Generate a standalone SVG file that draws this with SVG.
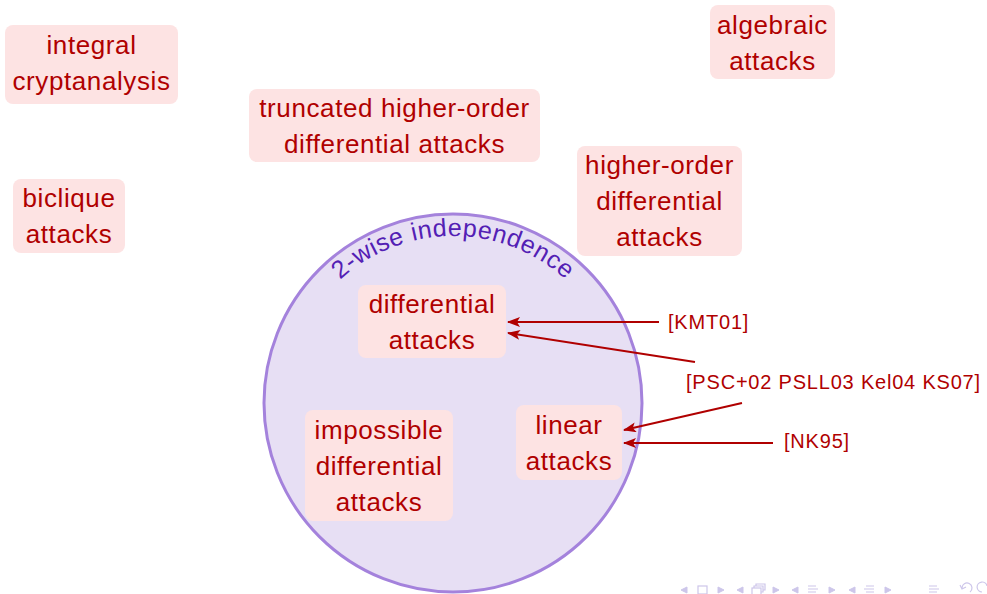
<svg xmlns="http://www.w3.org/2000/svg" width="987" height="594" viewBox="0 0 987 594">
<style>
.box{fill:#fde3e3}
.t{font-family:"Liberation Sans",Arial,sans-serif;font-size:26px;letter-spacing:0.6px;fill:#b00000;text-anchor:middle}
.ref{font-family:"Liberation Sans",Arial,sans-serif;font-size:20px;letter-spacing:0.8px;fill:#b00000}
.arr{stroke:#b00000;stroke-width:2;fill:none;marker-end:url(#ah)}
.nav{fill:#cdc6ea;stroke:#cdc6ea}
</style>
<defs>
<marker id="ah" markerWidth="14" markerHeight="10" refX="12" refY="5" orient="auto" markerUnits="userSpaceOnUse">
<path d="M0,0 L13,5 L0,10 L3,5 Z" fill="#b00000"/>
</marker>
<path id="arc" d="M286,403 A167,167 0 0 1 620,403"/>
</defs>
<rect width="987" height="594" fill="#ffffff"/>
<g id="circle">
<circle cx="453" cy="403" r="189" fill="#e7dff4" stroke="#a482dc" stroke-width="3"/>
<text style="font-family:'Liberation Sans',Arial,sans-serif;font-size:25px;fill:#5320b4" letter-spacing="0.6"><textPath href="#arc" startOffset="50%" text-anchor="middle">2-wise independence</textPath></text>
</g>
<g id="integral">
<rect class="box" x="5" y="25" width="173" height="79" rx="8"/>
<text class="t" x="91.5" y="54">integral</text>
<text class="t" x="91.5" y="90">cryptanalysis</text>
</g>
<g id="algebraic">
<rect class="box" x="710" y="5" width="125" height="74" rx="8"/>
<text class="t" x="772.5" y="34">algebraic</text>
<text class="t" x="772.5" y="70">attacks</text>
</g>
<g id="truncated">
<rect class="box" x="249" y="89" width="291" height="73" rx="8"/>
<text class="t" x="394.5" y="117">truncated higher-order</text>
<text class="t" x="394.5" y="153">differential attacks</text>
</g>
<g id="biclique">
<rect class="box" x="13" y="179" width="112" height="74" rx="8"/>
<text class="t" x="69" y="207">biclique</text>
<text class="t" x="69" y="243">attacks</text>
</g>
<g id="higherorder">
<rect class="box" x="577" y="146" width="165" height="110" rx="8"/>
<text class="t" x="659.5" y="174">higher-order</text>
<text class="t" x="659.5" y="210">differential</text>
<text class="t" x="659.5" y="246">attacks</text>
</g>
<g id="differential">
<rect class="box" x="358" y="285" width="148" height="73" rx="8"/>
<text class="t" x="432" y="313">differential</text>
<text class="t" x="432" y="349">attacks</text>
</g>
<g id="impossible">
<rect class="box" x="305" y="410" width="148" height="111" rx="8"/>
<text class="t" x="379" y="439">impossible</text>
<text class="t" x="379" y="475">differential</text>
<text class="t" x="379" y="511">attacks</text>
</g>
<g id="linear">
<rect class="box" x="516" y="405" width="106" height="75" rx="8"/>
<text class="t" x="569" y="434">linear</text>
<text class="t" x="569" y="470">attacks</text>
</g>
<g id="labels">
<text class="ref" x="668" y="329">[KMT01]</text>
<text class="ref" x="686" y="389">[PSC+02 PSLL03 Kel04 KS07]</text>
<text class="ref" x="784" y="448">[NK95]</text>
</g>
<g id="connectors">
<line class="arr" x1="659" y1="322" x2="508" y2="322"/>
<line class="arr" x1="695" y1="362" x2="508" y2="333"/>
<line class="arr" x1="742" y1="403" x2="624" y2="430"/>
<line class="arr" x1="773" y1="443" x2="624" y2="443"/>
</g>
<g id="nav" stroke-width="1">
<path class="nav" d="M681,590 L687,587 L687,593 Z"/>
<rect x="698" y="586" width="9" height="8" fill="none" stroke="#cdc6ea" stroke-width="1.2"/>
<path class="nav" d="M724,590 L718,587 L718,593 Z"/>
<path class="nav" d="M737,590 L743,587 L743,593 Z"/>
<rect x="752" y="588" width="9" height="7" fill="none" stroke="#cdc6ea" stroke-width="1.2"/>
<path d="M754,588 V586 H763 V592 H761 M756,586 V584 H765 V590 H763" fill="none" stroke="#cdc6ea" stroke-width="1.2"/>
<path class="nav" d="M779,590 L773,587 L773,593 Z"/>
<path class="nav" d="M792,590 L798,587 L798,593 Z"/>
<path d="M808,586 H816 M808,589 H818 M808,592 H816" stroke="#cdc6ea" stroke-width="1.2"/>
<path class="nav" d="M835,590 L829,587 L829,593 Z"/>
<path class="nav" d="M849,590 L855,587 L855,593 Z"/>
<path d="M866,586 H874 M864,589 H874 M866,592 H874" stroke="#cdc6ea" stroke-width="1.2"/>
<path class="nav" d="M891,590 L885,587 L885,593 Z"/>
<path d="M929,586 H937 M929,589 H939 M929,592 H937" stroke="#cdc6ea" stroke-width="1.2"/>
<path d="M970,592 A5,5 0 1 0 962,588 M960,585 L962,589 L966,587" fill="none" stroke="#cdc6ea" stroke-width="1.2"/>
<path d="M982,592 A5,5 0 1 1 987,586" fill="none" stroke="#cdc6ea" stroke-width="1.2"/>
</g>
</svg>
